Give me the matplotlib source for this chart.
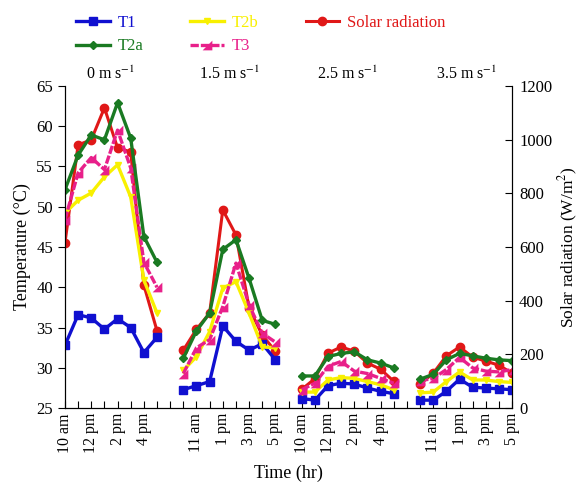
import numpy as np
import matplotlib
matplotlib.use("Agg")
import matplotlib.pyplot as plt

plt.rcParams['font.family'] = ['Liberation Serif', 'DejaVu Serif']
plt.rcParams['mathtext.fontset'] = 'stix'
plt.rcParams['font.size'] = 11

# wind speed groups, each measured hourly 10 am - 5 pm
groups = ["0 m s$^{-1}$", "1.5 m s$^{-1}$", "2.5 m s$^{-1}$", "3.5 m s$^{-1}$"]
hours = ["10 am", "11 am", "12 pm", "1 pm", "2 pm", "3 pm", "4 pm", "5 pm"]
# which hour labels are written under each group
shown_hours = [
    ["10 am", "12 pm", "2 pm", "4 pm"],
    ["11 am", "1 pm", "3 pm", "5 pm"],
    ["10 am", "12 pm", "2 pm", "4 pm"],
    ["11 am", "1 pm", "3 pm", "5 pm"],
]

# temperatures (deg C), one row per wind speed
t1 = [
    [32.8, 36.6, 36.2, 34.8, 36.1, 35.0, 31.9, 33.8],
    [27.3, 27.8, 28.3, 35.2, 33.3, 32.2, 33.0, 31.0],
    [26.2, 26.0, 27.8, 28.1, 28.0, 27.5, 27.1, 26.8],
    [26.0, 26.0, 27.1, 28.6, 27.6, 27.5, 27.4, 27.3],
]
t2a = [
    [52.1, 56.4, 58.9, 58.3, 62.9, 58.5, 46.3, 43.1],
    [31.2, 34.6, 36.8, 44.7, 45.9, 41.1, 35.9, 35.4],
    [29.0, 29.0, 31.4, 31.8, 32.0, 31.0, 30.6, 30.0],
    [28.6, 29.2, 31.0, 31.8, 31.5, 31.2, 31.0, 30.9],
]
t2b = [
    [49.2, 50.8, 51.7, 53.7, 55.2, 51.2, 40.9, 36.8],
    [29.7, 31.4, 34.5, 39.9, 40.7, 36.8, 32.6, 32.5],
    [27.0, 27.0, 28.5, 28.8, 28.7, 28.3, 27.9, 27.3],
    [26.9, 27.0, 28.3, 29.5, 28.5, 28.5, 28.3, 28.2],
]
t3 = [
    [48.4, 54.2, 56.1, 54.6, 59.5, 54.8, 43.1, 40.0],
    [29.3, 32.5, 33.5, 37.6, 43.0, 37.8, 34.3, 33.2],
    [27.3, 28.1, 30.2, 30.8, 29.6, 29.3, 28.7, 28.1],
    [28.4, 28.7, 29.8, 31.3, 30.0, 29.6, 29.5, 29.8],
]
# solar radiation (W/m2)
solar = [
    [615, 980, 999, 1118, 969, 954, 458, 288],
    [216, 294, 354, 738, 645, 373, 272, 212],
    [70, 110, 205, 228, 212, 168, 145, 100],
    [90, 130, 195, 228, 190, 175, 160, 130],
]

blue = "#1010d0"
green = "#1a7a22"
yellow = "#f8f000"
red = "#e01818"
pink = "#e8208a"

fig, ax = plt.subplots(figsize=(5.8, 4.96), dpi=100)
fig.subplots_adjust(left=0.112, right=0.883, bottom=0.177, top=0.827)
ax2 = ax.twinx()

# lower-right half of a square for T3
half_sq = [(-1, -1), (1, -1), (1, 1), (-1, -1)]

n = len(hours)
step = n + 1  # one empty hour between groups
handles = {}
for g in range(len(groups)):
    x = np.arange(n) + g * step
    h_s, = ax2.plot(x, solar[g], color=red, lw=2.2, marker="o", ms=6, zorder=2)
    h1, = ax.plot(x, t1[g], color=blue, lw=2.4, marker="s", ms=6)
    h2b, = ax.plot(x, t2b[g], color=yellow, lw=2.4, marker="v", ms=5)
    h3, = ax.plot(x, t3[g], color=pink, lw=2.4, linestyle=(0, (2.5, 0.6)),
                  marker=half_sq, ms=7, mew=0)
    h2a, = ax.plot(x, t2a[g], color=green, lw=2.4, marker="D", ms=4)
    handles = {"T1": h1, "T2a": h2a, "T2b": h2b, "T3": h3, "Solar radiation": h_s}
    ax.text(g * step + (n - 1) / 2, 65.4, groups[g], ha="center", va="bottom",
            fontsize=11.5)

# temperatures drawn over the radiation
ax.set_zorder(ax2.get_zorder() + 1)
ax.patch.set_visible(False)

ticks = np.arange(0, len(groups) * step - 1)
labels = [""] * len(ticks)
for g in range(len(groups)):
    for i, h in enumerate(hours):
        if h in shown_hours[g]:
            labels[g * step + i] = h
ax.set_xticks(ticks)
ax.set_xticklabels(labels, rotation=90, fontsize=11.5)
ax.set_xlim(0, ticks[-1])
ax.set_ylim(25, 65)
ax.set_yticks(np.arange(25, 66, 5))
ax2.set_ylim(0, 1200)
ax2.set_yticks(np.arange(0, 1201, 200))

ax.tick_params(axis="x", direction="in", length=5)
ax.tick_params(axis="y", direction="out", length=5, labelsize=12)
ax2.tick_params(axis="y", direction="in", length=5, labelsize=12, pad=5)
for a in (ax, ax2):
    a.spines["top"].set_visible(False)

ax.set_xlabel("Time (hr)", fontsize=13, labelpad=8)
ax.set_ylabel("Temperature (°C)", fontsize=13)
ax2.set_ylabel("Solar radiation (W/m$^2$)", fontsize=12.5, labelpad=3)

order = ["T1", "T2a", "T2b", "T3", "Solar radiation"]
leg = fig.legend([handles[k] for k in order], order, loc="center",
                 bbox_to_anchor=(0.45, 0.93), ncol=3, frameon=False,
                 columnspacing=2.8, handlelength=2.0, labelspacing=0.45,
                 handletextpad=0.5, fontsize=12)
for txt, k in zip(leg.get_texts(), order):
    txt.set_color(handles[k].get_color())

fig.savefig("out.png", dpi=100)
